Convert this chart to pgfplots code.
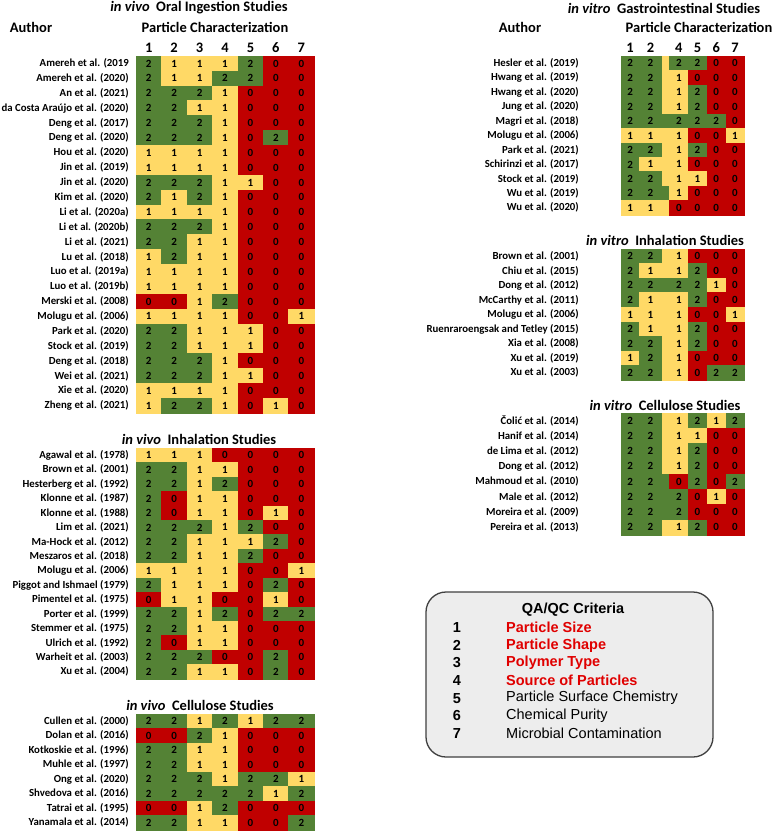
\documentclass[border=0pt]{standalone}
\usepackage{fontspec}
\setmainfont{Carlito}
\newfontfamily\arialf{Liberation Sans}
\usepackage{pgfplots}
\usepackage{pgfplotstable}
\pgfplotsset{compat=1.18}
\definecolor{legred}{RGB}{224,0,0}
\newcommand{\labfont}{\fontsize{10.8}{13}\selectfont\bfseries}
\newcommand{\numfont}{\fontsize{11}{13}\selectfont\bfseries}
\newcommand{\hdrfont}{\fontsize{14.5}{17}\selectfont\bfseries}

% ---- data: r = row, c1..c7 = criteria scores (0,1,2)
\pgfplotstableread{
r c1 c2 c3 c4 c5 c6 c7
1 2 1 1 1 2 0 0
2 2 1 1 2 2 0 0
3 2 2 2 1 0 0 0
4 2 2 1 1 0 0 0
5 2 2 2 1 0 0 0
6 2 2 2 1 0 2 0
7 1 1 1 1 0 0 0
8 1 1 1 1 0 0 0
9 2 2 2 1 1 0 0
10 2 1 2 1 0 0 0
11 1 1 1 1 0 0 0
12 2 2 2 1 0 0 0
13 2 2 1 1 0 0 0
14 1 2 1 1 0 0 0
15 1 1 1 1 0 0 0
16 1 1 1 1 0 0 0
17 0 0 1 2 0 0 0
18 1 1 1 1 0 0 1
19 2 2 1 1 1 0 0
20 2 2 1 1 1 0 0
21 2 2 2 1 0 0 0
22 2 2 2 1 1 0 0
23 1 1 1 1 0 0 0
24 1 2 2 1 0 1 0
}\tabA
\pgfplotstableread{
r c1 c2 c3 c4 c5 c6 c7
1 1 1 1 0 0 0 0
2 2 2 1 1 0 0 0
3 2 2 1 2 0 0 0
4 2 0 1 1 0 0 0
5 2 0 1 1 0 1 0
6 2 2 2 1 2 0 0
7 2 2 1 1 1 2 0
8 2 2 1 1 2 0 0
9 1 1 1 1 0 0 1
10 2 1 1 1 0 2 0
11 0 1 1 0 0 1 0
12 2 2 1 2 0 2 2
13 2 2 1 1 0 0 0
14 2 0 1 1 0 0 0
15 2 2 2 0 0 2 0
16 2 2 1 1 0 2 0
}\tabB
\pgfplotstableread{
r c1 c2 c3 c4 c5 c6 c7
1 2 2 1 2 1 2 2
2 0 0 2 1 0 0 0
3 2 2 1 1 0 0 0
4 2 2 1 1 0 0 0
5 2 2 2 1 2 2 1
6 2 2 2 2 2 1 2
7 0 0 1 2 0 0 0
8 2 2 1 1 0 0 2
}\tabC
\pgfplotstableread{
r c1 c2 c3 c4 c5 c6 c7
1 2 2 1 2 2 0 0
2 2 2 1 1 0 0 0
3 2 2 1 1 2 0 0
4 2 2 1 1 2 0 0
5 2 2 2 2 2 2 0
6 1 1 1 1 0 0 1
7 2 2 1 1 2 0 0
8 2 1 1 1 0 0 0
9 2 2 1 1 1 0 0
10 2 2 2 1 0 0 0
11 1 1 1 0 0 0 0
}\tabD
\pgfplotstableread{
r c1 c2 c3 c4 c5 c6 c7
1 2 2 1 1 0 0 0
2 2 1 1 1 2 0 0
3 2 2 2 2 2 1 0
4 2 1 1 1 2 0 0
5 1 1 1 1 0 0 1
6 2 1 1 1 2 0 0
7 2 2 1 1 2 0 0
8 1 2 1 1 0 0 0
9 2 2 1 1 0 2 2
}\tabE
\pgfplotstableread{
r c1 c2 c3 c4 c5 c6 c7
1 2 2 1 1 2 1 2
2 2 2 1 1 1 0 0
3 2 2 1 1 2 0 0
4 2 2 1 1 2 0 0
5 2 2 2 0 2 0 2
6 2 2 2 2 0 1 0
7 2 2 2 2 0 0 0
8 2 2 1 1 2 0 0
}\tabF

\pgfplotsset{
  colormap={qa}{rgb255=(192,0,0) rgb255=(255,217,102) rgb255=(84,130,53)},
  heat/.style={scale only axis, anchor=north west, clip=false, y dir=reverse,
    axis line style={draw=none}, tick style={draw=none}, major tick length=0pt,
    point meta min=0, point meta max=2, colormap name=qa, ymin=0.5,
    xticklabel pos=right,
    yticklabel style={font=\labfont, inner sep=0pt, anchor=east, xshift=-7pt},
    xticklabel style={font=\hdrfont, inner sep=0pt, anchor=south, yshift=3pt},
    /pgf/number format/assume math mode=true},
  cellnn/.style={scatter, only marks, mark=square*, mark size=1pt, point meta=explicit,
    scatter/use mapped color={draw=mapped color, fill=mapped color}},
  cell/.style={cellnn, nodes near coords*,
    every node near coord/.append style={anchor=center, font=\numfont, text=black, inner sep=0pt}},
}
\newcommand{\cc}[5]{\addplot[cell, mark options={xscale=#4, yscale=#5}] table[x expr=#3, y=r, meta=#2]{#1};}
\newcommand{\cs}[5]{\addplot[cellnn, mark options={xscale=#4, yscale=#5}] table[x expr=#3, y=r, meta=#2]{#1};}

\begin{document}
\begin{tikzpicture}
\useasboundingbox (0pt,0pt) rectangle (778pt,-832pt);
\fill[white] (0pt,0pt) rectangle (778pt,-832pt);

% ---------- titles / headers
\node[font=\hdrfont] at (199pt,-8pt) {\textit{in vivo}\ \ Oral Ingestion Studies};
\node[font=\hdrfont] at (31pt,-27pt) {Author};
\node[font=\hdrfont] at (215pt,-27pt) {Particle Characterization};
\node[font=\hdrfont] at (199pt,-439pt) {\textit{in vivo}\ \ Inhalation Studies};
\node[font=\hdrfont] at (200pt,-705pt) {\textit{in vivo}\ \ Cellulose Studies};
\node[font=\hdrfont] at (664pt,-8pt) {\textit{in vitro}\ \ Gastrointestinal Studies};
\node[font=\hdrfont] at (520pt,-27pt) {Author};
\node[font=\hdrfont] at (699pt,-27pt) {Particle Characterization};
\node[font=\hdrfont] at (665pt,-240pt) {\textit{in vitro}\ \ Inhalation Studies};
\node[font=\hdrfont] at (665pt,-405pt) {\textit{in vitro}\ \ Cellulose Studies};

% ---------- in vivo oral ingestion
\begin{axis}[heat, at={(136pt,-56pt)}, width=178pt, height=357pt,
  xmin=0, xmax=178, ymax=24.5,
  xtick={12.714,38.143,63.571,89,114.429,139.857,165.286}, xticklabels={1,2,3,4,5,6,7},
  ytick={1,...,24},
  yticklabels={Amereh et al. (2019,Amereh et al. (2020),An et al. (2021),da Costa Araújo et al. (2020),Deng et al. (2017),Deng et al. (2020),Hou et al. (2020),Jin et al. (2019),Jin et al. (2020),Kim et al. (2020),Li et al. (2020a),Li et al. (2020b),Li et al. (2021),Lu et al. (2018),Luo et al. (2019a),Luo et al. (2019b),Merski et al. (2008),Molugu et al. (2006),Park et al. (2020),Stock et al. (2019),Deng et al. (2018),Wei et al. (2021),Xie et al. (2020),Zheng et al. (2021)}]
\cc{\tabA}{c1}{12.714}{12.714}{7.44}
\cc{\tabA}{c2}{38.143}{12.714}{7.44}
\cc{\tabA}{c3}{63.571}{12.714}{7.44}
\cc{\tabA}{c4}{89}{12.714}{7.44}
\cc{\tabA}{c5}{114.429}{12.714}{7.44}
\cc{\tabA}{c6}{139.857}{12.714}{7.44}
\cc{\tabA}{c7}{165.286}{12.714}{7.44}
\end{axis}

% ---------- in vivo inhalation
\begin{axis}[heat, at={(136pt,-448pt)}, width=178pt, height=231pt,
  xmin=0, xmax=178, ymax=16.5, xtick=\empty,
  ytick={1,...,16},
  yticklabels={Agawal et al. (1978),Brown et al. (2001),Hesterberg et al. (1992),Klonne et al. (1987),Klonne et al. (1988),Lim et al. (2021),Ma-Hock et al. (2012),Meszaros et al. (2018),Molugu et al. (2006),Piggot and Ishmael (1979),Pimentel et al. (1975),Porter et al. (1999),Stemmer et al. (1975),Ulrich et al. (1992),Warheit et al. (2003),Xu et al. (2004)}]
\cc{\tabB}{c1}{12.714}{12.714}{7.22}
\cc{\tabB}{c2}{38.143}{12.714}{7.22}
\cc{\tabB}{c3}{63.571}{12.714}{7.22}
\cc{\tabB}{c4}{89}{12.714}{7.22}
\cc{\tabB}{c5}{114.429}{12.714}{7.22}
\cc{\tabB}{c6}{139.857}{12.714}{7.22}
\cc{\tabB}{c7}{165.286}{12.714}{7.22}
\end{axis}

% ---------- in vivo cellulose
\begin{axis}[heat, at={(136pt,-714pt)}, width=178pt, height=116pt,
  xmin=0, xmax=178, ymax=8.5, xtick=\empty,
  ytick={1,...,8},
  yticklabels={Cullen et al. (2000),Dolan et al. (2016),Kotkoskie et al. (1996),Muhle et al. (1997),Ong et al. (2020),Shvedova et al. (2016),Tatrai et al. (1995),Yanamala et al. (2014)}]
\cc{\tabC}{c1}{12.714}{12.714}{7.25}
\cc{\tabC}{c2}{38.143}{12.714}{7.25}
\cc{\tabC}{c3}{63.571}{12.714}{7.25}
\cc{\tabC}{c4}{89}{12.714}{7.25}
\cc{\tabC}{c5}{114.429}{12.714}{7.25}
\cc{\tabC}{c6}{139.857}{12.714}{7.25}
\cc{\tabC}{c7}{165.286}{12.714}{7.25}
\end{axis}

% ---------- in vitro gastrointestinal
\begin{axis}[heat, at={(621pt,-56pt)}, width=123.3pt, height=159pt,
  xmin=0, xmax=123.3, ymax=11.5,
  xtick={9.15,29.5,57.8,76.5,95.2,114}, xticklabels={1,2,4,5,6,7},
  ytick={1,...,11}, yticklabel style={xshift=-35pt},
  yticklabels={Hesler et al. (2019),Hwang et al. (2019),Hwang et al. (2020),Jung et al. (2020),Magri et al. (2018),Molugu et al. (2006),Park et al. (2021),Schirinzi et al. (2017),Stock et al. (2019),Wu et al. (2019),Wu et al. (2020)}]
\cc{\tabD}{c1}{9.15}{9.15}{7.23}
\cc{\tabD}{c2}{29.5}{11.2}{7.23}
\cs{\tabD}{c3}{44.5}{3.8}{7.23}
\cc{\tabD}{c4}{57.8}{9.5}{7.23}
\cc{\tabD}{c5}{76.5}{9.2}{7.23}
\cc{\tabD}{c6}{95.2}{9.5}{7.23}
\cc{\tabD}{c7}{114}{9.3}{7.23}
\end{axis}

% ---------- in vitro inhalation
\begin{axis}[heat, at={(621pt,-249pt)}, width=123.3pt, height=131pt,
  xmin=0, xmax=123.3, ymax=9.5, xtick=\empty,
  ytick={1,...,9}, yticklabel style={xshift=-35pt},
  yticklabels={Brown et al. (2001),Chiu et al. (2015),Dong et al. (2012),McCarthy et al. (2011),Molugu et al. (2006),Ruenraroengsak and Tetley (2015),Xia et al. (2008),Xu et al. (2019),Xu et al. (2003)}]
\cc{\tabE}{c1}{9.15}{9.15}{7.28}
\cc{\tabE}{c2}{29.5}{11.2}{7.28}
\cs{\tabE}{c3}{44.5}{3.8}{7.28}
\cc{\tabE}{c4}{57.8}{9.5}{7.28}
\cc{\tabE}{c5}{76.5}{9.2}{7.28}
\cc{\tabE}{c6}{95.2}{9.5}{7.28}
\cc{\tabE}{c7}{114}{9.3}{7.28}
\end{axis}

% ---------- in vitro cellulose
\begin{axis}[heat, at={(621pt,-413pt)}, width=123.3pt, height=122pt,
  xmin=0, xmax=123.3, ymax=8.5, xtick=\empty,
  ytick={1,...,8}, yticklabel style={xshift=-35pt},
  yticklabels={Čolić et al. (2014),Hanif et al. (2014),de Lima et al. (2012),Dong et al. (2012),Mahmoud et al. (2010),Male et al. (2012),Moreira et al. (2009),Pereira et al. (2013)}]
\cc{\tabF}{c1}{9.15}{9.15}{7.63}
\cc{\tabF}{c2}{29.5}{11.2}{7.63}
\cs{\tabF}{c3}{44.5}{3.8}{7.63}
\cc{\tabF}{c4}{57.8}{9.5}{7.63}
\cc{\tabF}{c5}{76.5}{9.2}{7.63}
\cc{\tabF}{c6}{95.2}{9.5}{7.63}
\cc{\tabF}{c7}{114}{9.3}{7.63}
\end{axis}

% ---------- QA/QC legend box
\draw[rounded corners=20pt, fill=black!7, draw=black!75, line width=1.3pt] (426pt,-592pt) rectangle (713pt,-757pt);
\node[font=\arialf\bfseries\fontsize{14.5}{17}\selectfont] at (573pt,-610pt) {QA/QC Criteria};
\begin{scope}[every node/.style={font=\arialf\fontsize{14.5}{17}\selectfont, inner sep=0pt}]
\foreach \i/\t/\c/\b in {1/Particle Size/legred/1, 2/Particle Shape/legred/1, 3/Polymer Type/legred/1, 4/Source of Particles/legred/1, 5/Particle Surface Chemistry/black/0, 6/Chemical Purity/black/0, 7/Microbial Contamination/black/0}{
  \node[font=\arialf\bfseries\fontsize{14.5}{17}\selectfont] at (457pt,{-627.7pt-17.6pt*(\i-1)}) {\i};
  \ifnum\b=1
    \node[anchor=west, text=\c, font=\arialf\bfseries\fontsize{14.5}{17}\selectfont] at (506pt,{-627.7pt-17.6pt*(\i-1)}) {\t};
  \else
    \node[anchor=west, text=\c] at (506pt,{-627.7pt-17.6pt*(\i-1)}) {\t};
  \fi
}
\end{scope}
\end{tikzpicture}
\end{document}
